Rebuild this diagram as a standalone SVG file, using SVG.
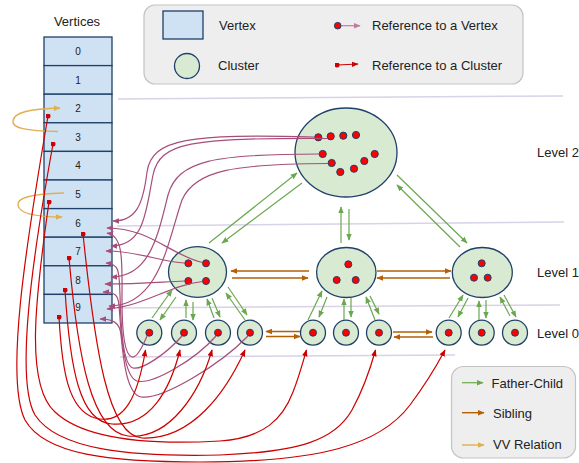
<svg xmlns="http://www.w3.org/2000/svg" width="579" height="463" viewBox="0 0 579 463">
  <style>
    text { font-family: "Liberation Sans", Arial, sans-serif; fill: #222; }
    .lbl { font-size: 13px; }
    .num { font-size: 10px; text-anchor: middle; }
    .vtx { fill: #cfe2f3; stroke: #1f4068; stroke-width: 1.3; }
    .cl { fill: #d9ead3; stroke: #1f4068; stroke-width: 1.3; }
    .dot { fill: #ff0000; stroke: #1f4068; stroke-width: 1; }
    .sep { stroke: #d9d2e9; stroke-width: 1.5; fill: none; }
    .legend { fill: #eeeeee; stroke: #c4c4c4; stroke-width: 1.2; }
    .pv { fill: none; stroke: #a64d79; stroke-width: 1.2; marker-end: url(#ah-pv); }
    .rc { fill: none; stroke: #cc0000; stroke-width: 1.2; marker-start: url(#dot-rc); marker-end: url(#ah-rc); }
    .fc { stroke: #6aa84f; stroke-width: 1.2; marker-end: url(#ah-fc); }
    .sb { stroke: #b45f06; stroke-width: 1.4; marker-end: url(#ah-sb); }
    .vv { fill: none; stroke: #e0b050; stroke-width: 1.4; marker-end: url(#ah-vv); }
  </style>
  <defs>
    <marker id="ah-pv" viewBox="0 0 10 10" refX="9" refY="5" markerWidth="7" markerHeight="7" markerUnits="userSpaceOnUse" orient="auto"><path d="M0,1 L10,5 L0,9 z" fill="#a64d79"/></marker>
    <marker id="ah-pl" viewBox="0 0 10 10" refX="9" refY="5" markerWidth="7" markerHeight="7" markerUnits="userSpaceOnUse" orient="auto"><path d="M0,1 L10,5 L0,9 z" fill="#c27ba0"/></marker>
    <marker id="ah-rc" viewBox="0 0 10 10" refX="9" refY="5" markerWidth="7" markerHeight="7" markerUnits="userSpaceOnUse" orient="auto"><path d="M0,1 L10,5 L0,9 z" fill="#cc0000"/></marker>
    <marker id="ah-fc" viewBox="0 0 10 10" refX="9" refY="5" markerWidth="7" markerHeight="7" markerUnits="userSpaceOnUse" orient="auto"><path d="M0,1 L10,5 L0,9 z" fill="#6aa84f"/></marker>
    <marker id="ah-sb" viewBox="0 0 10 10" refX="9" refY="5" markerWidth="7" markerHeight="7" markerUnits="userSpaceOnUse" orient="auto"><path d="M0,1 L10,5 L0,9 z" fill="#b45f06"/></marker>
    <marker id="ah-vv" viewBox="0 0 10 10" refX="9" refY="5" markerWidth="7" markerHeight="7" markerUnits="userSpaceOnUse" orient="auto"><path d="M0,1 L10,5 L0,9 z" fill="#e0b050"/></marker>
    <marker id="dot-rc" viewBox="0 0 6 6" refX="3" refY="3" markerWidth="5" markerHeight="5" markerUnits="userSpaceOnUse"><circle cx="3" cy="3" r="3" fill="#cc0000"/></marker>
  </defs>

  <!-- level separators -->
  <g id="separators">
    <line class="sep" x1="118" y1="99" x2="563" y2="96"/>
    <line class="sep" x1="117" y1="226" x2="564" y2="222"/>
    <line class="sep" x1="118" y1="308" x2="560" y2="305"/>
    <line class="sep" x1="120" y1="357" x2="455" y2="355"/>
  </g>

  <!-- top legend -->
  <g id="legend-top">
    <rect class="legend" x="144" y="5" width="379" height="79" rx="11"/>
    <rect class="vtx" x="163" y="11" width="40" height="28"/>
    <text class="lbl" x="219" y="30">Vertex</text>
    <circle class="cl" cx="187" cy="66" r="12.5"/>
    <text class="lbl" x="218" y="70">Cluster</text>
    <line x1="341" y1="25.7" x2="360" y2="25.7" stroke="#c27ba0" stroke-width="1.2" marker-end="url(#ah-pl)"/>
    <circle class="dot" cx="337.7" cy="25.7" r="3.3"/>
    <text class="lbl" x="372" y="30">Reference to a Vertex</text>
    <line x1="337" y1="65" x2="358" y2="64" stroke="#cc0000" stroke-width="1.2" marker-start="url(#dot-rc)" marker-end="url(#ah-rc)"/>
    <text class="lbl" x="372" y="70">Reference to a Cluster</text>
  </g>

  <!-- vertex array -->
  <text class="lbl" x="77" y="26" text-anchor="middle">Vertices</text>
  <g id="v0"><rect class="vtx" x="44" y="37" width="68" height="28.6"/><text class="num" x="78" y="55">0</text></g>
  <g id="v1"><rect class="vtx" x="44" y="65.6" width="68" height="28.6"/><text class="num" x="78" y="83.5">1</text></g>
  <g id="v2"><rect class="vtx" x="44" y="94.2" width="68" height="28.6"/><text class="num" x="78" y="112">2</text></g>
  <g id="v3"><rect class="vtx" x="44" y="122.8" width="68" height="28.6"/><text class="num" x="78" y="140.7">3</text></g>
  <g id="v4"><rect class="vtx" x="44" y="151.4" width="68" height="28.6"/><text class="num" x="78" y="169.3">4</text></g>
  <g id="v5"><rect class="vtx" x="44" y="180" width="68" height="28.6"/><text class="num" x="78" y="197.9">5</text></g>
  <g id="v6"><rect class="vtx" x="44" y="208.6" width="68" height="28.6"/><text class="num" x="78" y="226.5">6</text></g>
  <g id="v7"><rect class="vtx" x="44" y="237.2" width="68" height="28.6"/><text class="num" x="78" y="255.1">7</text></g>
  <g id="v8"><rect class="vtx" x="44" y="265.8" width="68" height="28.6"/><text class="num" x="78" y="283.7">8</text></g>
  <g id="v9"><rect class="vtx" x="44" y="294.4" width="68" height="28.6"/><text class="num" x="78" y="311">9</text></g>

  <!-- level labels -->
  <text class="lbl" x="537" y="157">Level 2</text>
  <text class="lbl" x="537" y="277">Level 1</text>
  <text class="lbl" x="537" y="338">Level 0</text>

  <!-- level 2 -->
  <g id="c2-0">
    <ellipse class="cl" cx="346" cy="152.5" rx="51" ry="44.5"/>
    <circle class="dot" cx="318.3" cy="137.3" r="3.6"/>
    <circle class="dot" cx="330.7" cy="136.3" r="3.6"/>
    <circle class="dot" cx="343.3" cy="135.7" r="3.6"/>
    <circle class="dot" cx="356" cy="135" r="3.6"/>
    <circle class="dot" cx="322.7" cy="154" r="3.6"/>
    <circle class="dot" cx="331.7" cy="163" r="3.6"/>
    <circle class="dot" cx="340.3" cy="172" r="3.6"/>
    <circle class="dot" cx="354" cy="168.7" r="3.6"/>
    <circle class="dot" cx="364.3" cy="161" r="3.6"/>
    <circle class="dot" cx="374.7" cy="154" r="3.6"/>
  </g>

  <!-- level 1 -->
  <g id="c1-0">
    <ellipse class="cl" cx="197.5" cy="272" rx="29" ry="25.3"/>
    <circle class="dot" cx="188.3" cy="263.3" r="3.5"/>
    <circle class="dot" cx="206" cy="263.3" r="3.5"/>
    <circle class="dot" cx="188.3" cy="281" r="3.5"/>
    <circle class="dot" cx="206" cy="281" r="3.5"/>
  </g>
  <g id="c1-1">
    <ellipse class="cl" cx="346.3" cy="272.5" rx="29.7" ry="25"/>
    <circle class="dot" cx="348.3" cy="264.3" r="3.5"/>
    <circle class="dot" cx="336.7" cy="280" r="3.5"/>
    <circle class="dot" cx="355.7" cy="280" r="3.5"/>
  </g>
  <g id="c1-2">
    <ellipse class="cl" cx="482.3" cy="272.5" rx="30" ry="25"/>
    <circle class="dot" cx="481.7" cy="263.3" r="3.5"/>
    <circle class="dot" cx="474" cy="277.7" r="3.5"/>
    <circle class="dot" cx="487.7" cy="277.7" r="3.5"/>
  </g>

  <!-- level 0 -->
  <g id="c0-0"><circle class="cl" cx="149.3" cy="332.7" r="12.5"/><circle class="dot" cx="149.3" cy="332.7" r="3.5"/></g>
  <g id="c0-1"><circle class="cl" cx="184" cy="332.7" r="12.5"/><circle class="dot" cx="184" cy="332.7" r="3.5"/></g>
  <g id="c0-2"><circle class="cl" cx="218" cy="332.7" r="12.5"/><circle class="dot" cx="218" cy="332.7" r="3.5"/></g>
  <g id="c0-3"><circle class="cl" cx="250" cy="332.7" r="12.5"/><circle class="dot" cx="250" cy="332.7" r="3.5"/></g>
  <g id="c0-4"><circle class="cl" cx="313" cy="332.7" r="12.5"/><circle class="dot" cx="313" cy="332.7" r="3.5"/></g>
  <g id="c0-5"><circle class="cl" cx="346" cy="332.7" r="12.5"/><circle class="dot" cx="346" cy="332.7" r="3.5"/></g>
  <g id="c0-6"><circle class="cl" cx="379" cy="332.7" r="12.5"/><circle class="dot" cx="379" cy="332.7" r="3.5"/></g>
  <g id="c0-7"><circle class="cl" cx="448.7" cy="332.7" r="12.5"/><circle class="dot" cx="448.7" cy="332.7" r="3.5"/></g>
  <g id="c0-8"><circle class="cl" cx="481.7" cy="332.7" r="12.5"/><circle class="dot" cx="481.7" cy="332.7" r="3.5"/></g>
  <g id="c0-9"><circle class="cl" cx="515" cy="332.7" r="12.5"/><circle class="dot" cx="515" cy="332.7" r="3.5"/></g>

  <!-- bottom legend -->
  <g id="legend-bottom">
    <rect class="legend" x="451.5" y="366.5" width="124" height="91.5" rx="12"/>
    <line class="fc" x1="462" y1="382.7" x2="483" y2="382.7"/>
    <text class="lbl" x="491.5" y="387.5">Father-Child</text>
    <line class="sb" x1="462" y1="412.7" x2="484" y2="412.7"/>
    <text class="lbl" x="493" y="417.5">Sibling</text>
    <line x1="462" y1="445" x2="484" y2="445" stroke="#e0b050" stroke-width="1.4" marker-end="url(#ah-vv)"/>
    <text class="lbl" x="493" y="448.5">VV Relation</text>
  </g>

  <g id="connectors">
    <!-- vertex-to-vertex relations -->
    <path class="vv" d="M58,131.5 C 25,131 12,128 13,121 C 14,112 30,109 60,108"/>
    <path class="vv" d="M64,193 C 30,194 17,198 18,205 C 19,213 35,217 62,217"/>

    <!-- level 2 references to vertices -->
    <path class="pv" d="M314.5,137 C 190,134 152,138 147,172 C 143,205 136,221 113,221"/>
    <path class="pv" d="M327,138.5 C 190,138 160,142 153,175 C 146,210 145,246 111,246"/>
    <path class="pv" d="M319,154 C 215,154 178,160 168,195 C 158,235 150,277 111,277"/>
    <path class="pv" d="M328,163.5 C 235,164 195,170 182,200 C 168,240 160,306 109,306"/>
    <!-- level 1 references to vertices -->
    <path class="pv" d="M202.5,262.5 C 170,255 150,228 107,228"/>
    <path class="pv" d="M184.5,263 C 160,262 140,251 106,251"/>
    <path class="pv" d="M184.5,281 C 160,282 140,284 105,284"/>
    <path class="pv" d="M202.5,281.5 C 170,285 145,306 107,309"/>
    <!-- level 0 references to vertices -->
    <path class="pv" d="M147,336 C 142,348 137,358 132,357 C 124,355 122,330 122,300 C 122,262 124,236 107,233"/>
    <path class="pv" d="M182,336 C 165,355 142,370 133,368 C 123,365 121,330 120,295 C 119,272 120,264 106,263"/>
    <path class="pv" d="M216,336 C 195,360 152,385 137,381 C 124,377 121,335 119,305 C 118,295 115,292 103,292"/>
    <path class="pv" d="M248,336 C 220,365 162,400 141,397 C 126,394 123,355 121,335 C 120,322 112,319 100,319"/>

    <!-- vertex references to level 0 clusters -->
    <path class="rc" d="M48,116 C 25,250 5,380 25,420 C 45,455 110,462 200,462 C 320,462 380,445 410,405 C 425,385 437,365 445,350"/>
    <path class="rc" d="M53,144 C 32,260 15,380 35,415 C 58,450 130,457 220,455 C 300,452 335,440 352,410 C 363,390 370,370 375.5,350"/>
    <path class="rc" d="M49,202 C 35,300 25,385 55,412 C 85,440 150,445 220,441 C 265,438 283,418 293,392 C 299,377 303,362 306.5,350"/>
    <path class="rc" d="M59,317 C 62,370 68,410 95,418 C 125,426 138,395 145.5,350"/>
    <path class="rc" d="M65,290 C 70,370 80,422 112,424 C 150,427 170,390 180,350"/>
    <path class="rc" d="M69,258 C 78,360 92,432 128,436 C 170,440 200,392 212,350"/>
    <path class="rc" d="M83,234 C 95,350 108,436 142,438 C 192,440 226,392 245,350"/>

    <!-- father-child: level 2 / level 1 -->
    <line class="fc" x1="209" y1="243" x2="297" y2="173"/>
    <line class="fc" x1="302" y1="183" x2="222" y2="243"/>
    <line class="fc" x1="341" y1="243" x2="341" y2="207"/>
    <line class="fc" x1="349" y1="209" x2="349" y2="240"/>
    <line class="fc" x1="397" y1="175" x2="467" y2="243"/>
    <line class="fc" x1="460" y1="247" x2="397" y2="185"/>

    <!-- father-child: level 1 / level 0 -->
    <line class="fc" x1="152" y1="318" x2="172" y2="290"/>
    <line class="fc" x1="176" y1="297" x2="160" y2="320"/>
    <line class="fc" x1="186" y1="318" x2="186" y2="300"/>
    <line class="fc" x1="193" y1="302" x2="193" y2="320"/>
    <line class="fc" x1="214" y1="318" x2="207" y2="299"/>
    <line class="fc" x1="212" y1="298" x2="220" y2="317"/>
    <line class="fc" x1="245" y1="320" x2="226" y2="293"/>
    <line class="fc" x1="228" y1="287" x2="247" y2="315"/>

    <line class="fc" x1="308" y1="320" x2="322" y2="291"/>
    <line class="fc" x1="327" y1="297" x2="319" y2="317"/>
    <line class="fc" x1="344" y1="320" x2="344" y2="299"/>
    <line class="fc" x1="351" y1="298" x2="351" y2="317"/>
    <line class="fc" x1="375" y1="320" x2="366" y2="297"/>
    <line class="fc" x1="370" y1="296" x2="379" y2="314"/>

    <line class="fc" x1="449" y1="318" x2="463" y2="295"/>
    <line class="fc" x1="468" y1="298" x2="458" y2="317"/>
    <line class="fc" x1="479" y1="320" x2="479" y2="301"/>
    <line class="fc" x1="486" y1="300" x2="486" y2="318"/>
    <line class="fc" x1="510" y1="316" x2="500" y2="297"/>
    <line class="fc" x1="504" y1="295" x2="516" y2="317"/>

    <!-- siblings -->
    <line class="sb" x1="309" y1="271" x2="231" y2="271"/>
    <line class="sb" x1="232" y1="278" x2="308" y2="278"/>
    <line class="sb" x1="377" y1="271" x2="451" y2="271"/>
    <line class="sb" x1="450" y1="278" x2="377" y2="278"/>
    <line class="sb" x1="300" y1="331.5" x2="266" y2="331.5"/>
    <line class="sb" x1="266" y1="336.5" x2="300" y2="336.5"/>
    <line class="sb" x1="393" y1="332" x2="432" y2="332"/>
    <line class="sb" x1="433" y1="337" x2="394" y2="337"/>
  </g>
</svg>
